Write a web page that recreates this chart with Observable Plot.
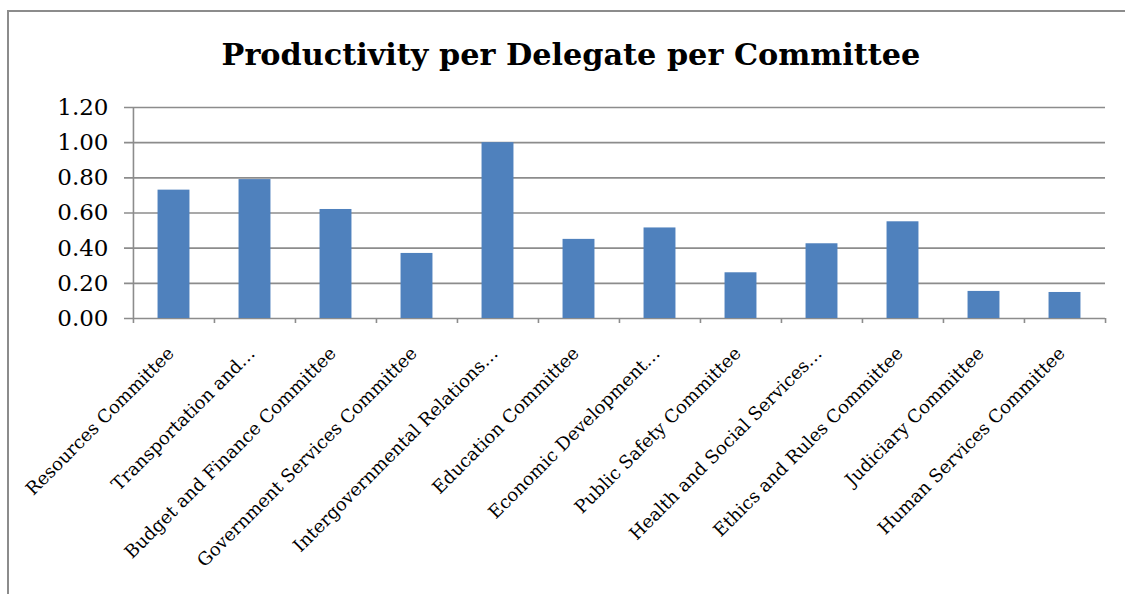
<!DOCTYPE html>
<html>
<head>
<meta charset="utf-8">
<script src="https://cdn.jsdelivr.net/npm/d3@7"></script>
<script src="https://cdn.jsdelivr.net/npm/@observablehq/plot@0.6"></script>
<style>
  html, body { margin: 0; padding: 0; background: #fff; overflow: hidden; }
  #wrap { position: relative; width: 1125px; height: 594px; }
  #frame { position: absolute; left: 7px; top: 10px; right: -10px; bottom: -10px;
           border-left: 2px solid #8c8c8c; border-top: 2px solid #8c8c8c; pointer-events: none; }
  #title { height: 80px; position: relative; }
  #title div { position: absolute; left: 0; width: 1142px; top: 40px; text-align: center;
               font-family: "DejaVu Serif", serif; font-weight: bold; font-size: 30.3px; line-height: 30px; color: #000; }
  #chart svg { display: block; }
</style>
</head>
<body>
<div id="wrap">
  <div id="title"><div>Productivity per Delegate per Committee</div></div>
  <div id="chart"></div>
  <div id="frame"></div>
</div>
<script>
const committees = [
  "Resources Committee",
  "Transportation and…",
  "Budget and Finance Committee",
  "Government Services Committee",
  "Intergovernmental Relations…",
  "Education Committee",
  "Economic Development…",
  "Public Safety Committee",
  "Health and Social Services…",
  "Ethics and Rules Committee",
  "Judiciary Committee",
  "Human Services Committee"
];
const productivity = [0.73, 0.79, 0.62, 0.37, 1.00, 0.45, 0.515, 0.26, 0.425, 0.55, 0.154, 0.148];
const yTicks = [0, 0.2, 0.4, 0.6, 0.8, 1.0, 1.2];

const data = committees.map((c, i) => ({committee: c, value: productivity[i]}));

const W = 1125, H = 514;
const mL = 132, mR = 20, mT = 27, mB = 276;
const step = (W - mL - mR) / committees.length;
const barW = 32;
const inset = (step - barW) / 2;
const gray = "#8c8c8c";

const chart = Plot.plot({
  width: W,
  height: H,
  marginLeft: mL,
  marginRight: mR,
  marginTop: mT,
  marginBottom: mB,
  style: {fontFamily: "DejaVu Serif, serif", color: "#000", background: "transparent"},
  x: {type: "band", domain: committees, padding: 0},
  y: {domain: [0, 1.2]},
  marks: [
    Plot.ruleY(yTicks, {y: d => d, stroke: gray, strokeWidth: 1.6, insetLeft: -8}),
    Plot.barY(data, {x: "committee", y: "value", fill: "#4f81bd", insetLeft: inset, insetRight: inset}),
    Plot.ruleX([committees[0]], {x: d => d, y1: 0, y2: 1.2, dx: -step / 2, stroke: gray, strokeWidth: 1.6}),
    Plot.ruleX(committees, {x: d => d, y1: 0, y2: 0, insetBottom: -5, dx: -step / 2, stroke: gray, strokeWidth: 1.6}),
    Plot.ruleX([committees[committees.length - 1]], {x: d => d, y1: 0, y2: 0, insetBottom: -5, dx: step / 2, stroke: gray, strokeWidth: 1.6}),
    Plot.axisY({ticks: yTicks, tickFormat: d3.format(".2f"), tickSize: 0, tickPadding: 24, fontSize: 23, label: null}),
    Plot.axisX({tickSize: 0, tickRotate: -45, tickPadding: 32, fontSize: 18, dx: -3, label: null})
  ]
});
document.getElementById("chart").appendChild(chart);
</script>
</body>
</html>
